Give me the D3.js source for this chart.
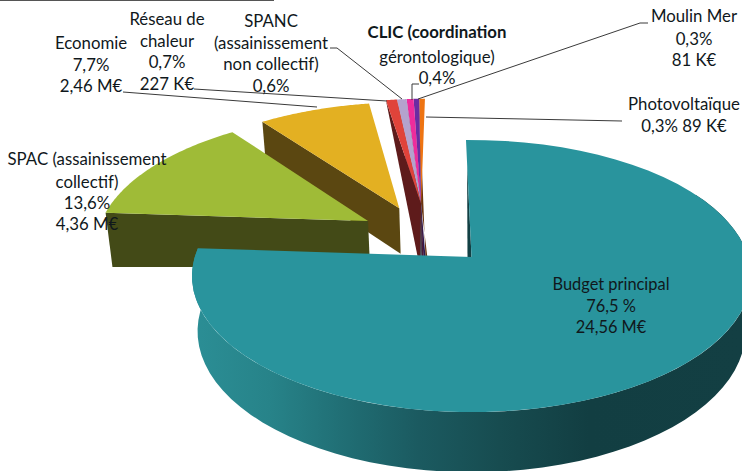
<!DOCTYPE html>
<html><head><meta charset="utf-8">
<script src="https://cdn.jsdelivr.net/npm/d3@7/dist/d3.min.js"></script>
<style>html,body{margin:0;padding:0;background:#fff}svg{display:block}text{font-family:Lato,"Open Sans",sans-serif;font-size:16.8px;fill:#10181c;text-anchor:middle}</style>
</head><body><svg id="c" width="742" height="471"></svg>
<script>
// Data (percent of the budget)
const mainNames = ["Budget principal","SPAC","Economie","Petits budgets"];
const smallNames = ["Réseau de chaleur","SPANC","CLIC","Moulin Mer","Photovoltaïque"];
const smallValues = [0.7,0.6,0.4,0.3,0.3];
const mainValues = [76.5,13.6,7.7,d3.sum(smallValues)];

// Colours
const topColors = ["#29949d","#9fbb37","#e3b022"];
const wallColors = [null,"#434a17","#5b4711"];
const smallTop = ["#e0433a","#b4a2cd","#ee2c9c","#6b2ca2","#ee7412"];
const smallWall = ["#5e1b1b","#54525c","#4a1a3a","#2e1a50","#6a3510"];

// Exploded offsets in the pie plane (unit = radius)
const explode = [[0,0],[-0.3885,0.281],[-0.275,0.385]];
const smallExplode = [-0.193,0.423];
const rimExtra = [0,9,0];

// Labels
const labels = [
 {x:611,ys:[289.5,311.5,332.5],size:16.4,lines:["Budget principal","76,5 %","24,56 M€"]},
 {x:87,ys:[165,188,209,230],lines:["SPAC (assainissement","collectif)","13,6%","4,36 M€"]},
 {x:91,ys:[48.5,71,92],lines:["Economie","7,7%","2,46 M€"]},
 {x:167,ys:[25,47,68,90],lines:["Réseau de","chaleur","0,7%","227 K€"]},
 {x:271,ys:[27,49,70,92],lines:["SPANC","(assainissement","non collectif)","0,6%"]},
 {x:437,ys:[38,63,84],lines:["CLIC (coordination","gérontologique)","0,4%"],bold:[0]},
 {x:694,ys:[22,45,66],lines:["Moulin Mer","0,3%","81 K€"]},
 {x:684,ys:[110,132],lines:["Photovoltaïque","0,3% 89 K€"]}
];
const leaders = [
 [[123,92],[317,107]],
 [[194,89],[387,101]],
 [[330,48],[337,48],[402,99]],
 [[419,84],[412,84],[412,100]],
 [[648,23],[640,23],[418,99]],
 [[426,117],[622,121]]
];

// Perspective pie plane
const cx=471.5,y0=257,A=276.8,B=133.4,k=0.14,H=48,mainH=56,smallH=58,wd=0.02;
function P(X,Y,drop){
  const w=1+k*Y+(drop?wd:0);
  return [cx+A*X/w, y0+(-B*Y+(drop||0))/w];
}
const rim=(a,o,drop)=>P(o[0]+Math.sin(a),o[1]+Math.cos(a),drop);
const rad=d=>d*Math.PI/180;
const line=d3.line();
const svg=d3.select("#c");
const defs=svg.append("defs");
const gr=defs.append("linearGradient").attr("id","side").attr("gradientUnits","userSpaceOnUse")
  .attr("x1",195).attr("x2",742).attr("y1",0).attr("y2",0);
[[0,"#2b8e95"],[0.137,"#278389"],[0.30,"#1f6a70"],[0.41,"#1b5a60"],[0.557,"#174c50"],[0.72,"#123e42"],[1,"#133f43"]]
  .forEach(s=>gr.append("stop").attr("offset",s[0]).attr("stop-color",s[1]));

const pie=d3.pie().sort(null).startAngle(rad(-1.3)).endAngle(2*Math.PI);
const arcs=pie(mainValues);
const smallPie=d3.pie().sort(null).startAngle(rad(349.8)).endAngle(rad(359.5)).padAngle(0.0074);
const smallArcs=smallPie(smallValues);
const sample=(a0,a1)=>d3.range(0,61).map(i=>a0+(a1-a0)*i/60);

// small slices (drawn right to left so the left ones stay on top)
const so=smallExplode;
const spread=d3.scaleLinear().domain([0,smallValues.length-1]).range([-4,3.5]);
d3.range(smallArcs.length-1,-1,-1).forEach(i=>{
  const s=smallArcs[i];
  const ab=P(so[0],so[1],smallH);
  svg.append("path").attr("fill",smallWall[i])
    .attr("d",line([rim(s.startAngle,so),[ab[0]+spread(i),ab[1]],[ab[0]+spread(i)+2,ab[1]],P(so[0],so[1])])+"Z");
  svg.append("path").attr("fill",smallTop[i])
    .attr("d",line([P(so[0],so[1]),...sample(s.startAngle,s.endAngle).map(a=>rim(a,so))])+"Z");
});

// exploded big slices: yellow, then green
[2,1].forEach(i=>{
  const s=arcs[i],o=explode[i];
  svg.append("path").attr("fill",wallColors[i]).attr("d",line([
    rim(s.startAngle,o),P(o[0],o[1]),P(o[0],o[1],H),rim(s.startAngle,o,H+rimExtra[i])
  ])+"Z");
  svg.append("path").attr("fill",topColors[i])
    .attr("d",line([P(o[0],o[1]),...sample(s.startAngle,s.endAngle).map(a=>rim(a,o))])+"Z");
});

// main slice
const m=arcs[0],o0=explode[0];
const sideA=sample(rad(60),m.endAngle);
svg.append("path").attr("fill","url(#side)").attr("d",line([
  ...sideA.map(a=>rim(a,o0)),...sideA.slice().reverse().map(a=>rim(a,o0,mainH))
])+"Z");
const rp=rim(m.startAngle,o0), ap=P(0,0);
const mid=[ap[0]+(rp[0]-ap[0])*0.8, ap[1]+(rp[1]-ap[1])*0.8];
svg.append("path").attr("fill","#124044").attr("d",line([mid,ap,[ap[0]-4,ap[1]]])+"Z");
svg.append("path").attr("fill",topColors[0])
  .attr("d",line([ap,...sample(m.startAngle,m.endAngle).map(a=>rim(a,o0))])+"Z");

// frame remnant at the top
svg.append("line").attr("x1",0).attr("x2",274).attr("y1",0.5).attr("y2",0.5).attr("stroke","#555");

// leaders
leaders.forEach(l=>svg.append("path").attr("d",line(l)).attr("fill","none").attr("stroke","#3a3a3a").attr("stroke-width",1));

// labels
labels.forEach(l=>l.lines.forEach((t,i)=>{
  const b=(l.bold||[]).includes(i);
  svg.append("text").attr("x",l.x).attr("y",l.ys[i])
    .style("font-weight",b?"700":"400").style("font-size",(l.size||16.8)+"px").text(t);
}));
</script></body></html>
